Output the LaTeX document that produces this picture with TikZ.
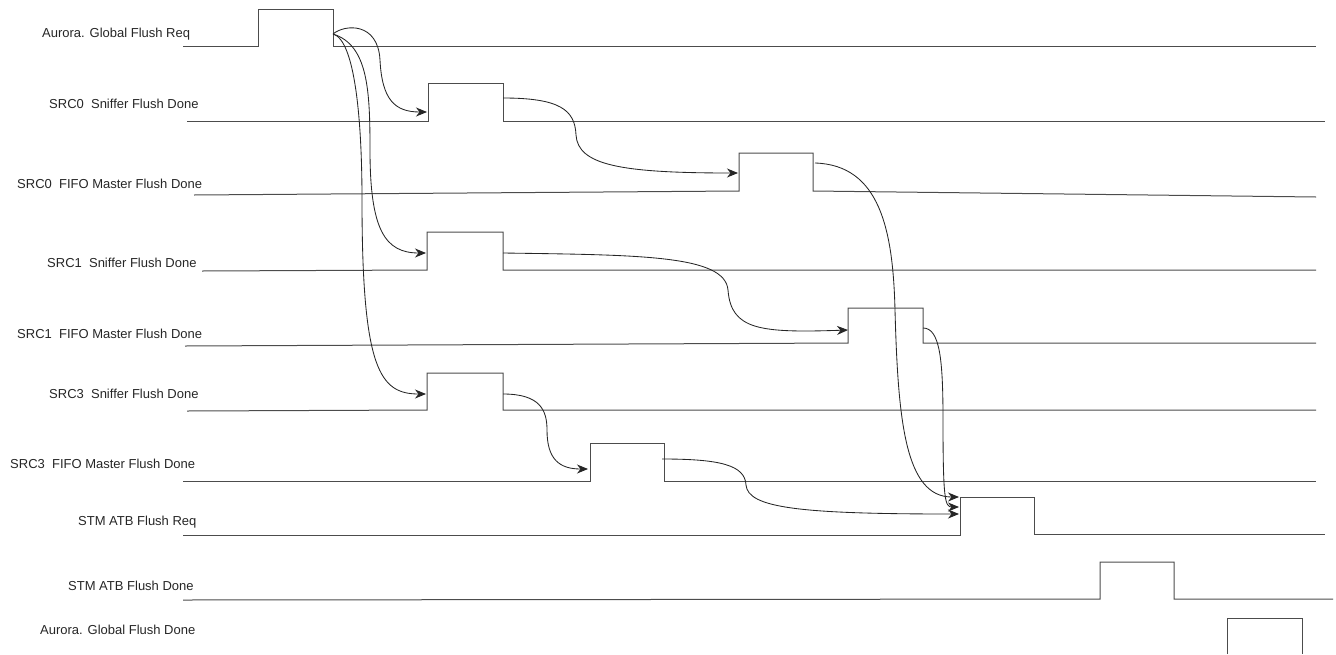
\documentclass[tikz,border=0pt]{standalone}
\usepackage{fontspec}
\setmainfont{Liberation Sans}
\usetikzlibrary{arrows.meta}

\begin{document}
\begin{tikzpicture}[
  x=1pt, y=-1pt,
  font=\fontsize{13}{15}\selectfont,
  >={Stealth[length=11pt,width=9pt,inset=3.5pt]},
  sig/.style={anchor=base west, inner sep=0pt, text=black!85},
  wave/.style={line width=1pt, draw=black!70},
  evt/.style={->, line width=0.85pt, draw=black!85},
]
\useasboundingbox (0,0) rectangle (1336,654);

% ---- signal names ----
\node[sig] (l-gfreq)  at (42,37)  {Aurora. Global Flush Req};
\node[sig] (l-s0snf)  at (49,108) {SRC0\ \ Sniffer Flush Done};
\node[sig] (l-s0fifo) at (17,188) {SRC0\ \ FIFO Master Flush Done};
\node[sig] (l-s1snf)  at (47,267) {SRC1\ \ Sniffer Flush Done};
\node[sig] (l-s1fifo) at (17,338) {SRC1\ \ FIFO Master Flush Done};
\node[sig] (l-s3snf)  at (49,398) {SRC3\ \ Sniffer Flush Done};
\node[sig] (l-s3fifo) at (10,468) {SRC3\ \ FIFO Master Flush Done};
\node[sig] (l-atbreq) at (78,525) {STM ATB Flush Req};
\node[sig] (l-atbdn)  at (68,590) {STM ATB Flush Done};
\node[sig] (l-gfdn)   at (40,634) {Aurora. Global Flush Done};

% ---- waveforms (low -> pulse -> low) ----
\draw[wave] (183,46) -- (258,46) -- (258,9) -- (333,9) -- (333,46) -- (1316,46);
\draw[wave] (187,121) -- (428,121) -- (428,83) -- (503,83) -- (503,121) -- (1325,121);
\draw[wave] (194,195) -- (739,191) -- (739,153) -- (813,153) -- (813,191) -- (1316,197);
\draw[wave] (202,271) -- (427,270) -- (427,232) -- (503,232) -- (503,270) -- (1316,270);
\draw[wave] (185,346) -- (848,343) -- (848,308) -- (923,308) -- (923,343) -- (1316,343);
\draw[wave] (187,411) -- (427,410) -- (427,373) -- (503,373) -- (503,410) -- (1316,410);
\draw[wave] (183,481) -- (590,481) -- (590,443) -- (664,443) -- (664,481) -- (1316,481);
\draw[wave] (183,535) -- (960,535) -- (960,497) -- (1034,497) -- (1034,534) -- (1325,534);
\draw[wave] (183,600) -- (1100,599) -- (1100,562) -- (1174,562) -- (1174,599) -- (1333,599);
\draw[wave] (1227,654) -- (1227,618) -- (1302,618) -- (1302,654);

% ---- edge points ----
\coordinate (gfreq-fall)  at (333,34);
\coordinate (s0snf-rise)  at (427,112);
\coordinate (s0snf-fall)  at (503,98);
\coordinate (s0fifo-rise) at (738,173);
\coordinate (s0fifo-fall) at (815,163);
\coordinate (s1snf-rise)  at (426,253);
\coordinate (s1snf-fall)  at (503,253);
\coordinate (s1fifo-rise) at (848,330);
\coordinate (s1fifo-fall) at (923,328);
\coordinate (s3snf-rise)  at (426,394);
\coordinate (s3snf-fall)  at (503,394);
\coordinate (s3fifo-rise) at (588,469);
\coordinate (s3fifo-fall) at (662,459);
\coordinate (atb-rise1)   at (959,497);
\coordinate (atb-rise2)   at (959,507);
\coordinate (atb-rise3)   at (959,514);

% ---- causality: global req fans out to the sniffers ----
\draw[evt] (gfreq-fall) .. controls (345,24) and (378,22) .. (380,60)
                        .. controls (382,100) and (395,112) .. (s0snf-rise);
\draw[evt] (gfreq-fall) .. controls (368,45) and (370,90) .. (370,150)
                        .. controls (370,230) and (385,253) .. (s1snf-rise);
\draw[evt] (gfreq-fall) .. controls (355,40) and (362,120) .. (362,200)
                        .. controls (362,370) and (380,394) .. (s3snf-rise);

% ---- sniffer done -> fifo master flush ----
\draw[evt] (s0snf-fall) .. controls (560,98) and (575,110) .. (576,135)
                        .. controls (578,165) and (620,173) .. (s0fifo-rise);
\draw[evt] (s1snf-fall) .. controls (640,255) and (725,255) .. (728,290)
                        .. controls (731,330) and (760,333) .. (s1fifo-rise);
\draw[evt] (s3snf-fall) .. controls (540,394) and (547,410) .. (547,430)
                        .. controls (547,460) and (560,469) .. (s3fifo-rise);

% ---- fifo masters done -> STM ATB flush req ----
\draw[evt] (s0fifo-fall) .. controls (880,165) and (893,230) .. (895,310)
                         .. controls (898,420) and (905,497) .. (atb-rise1);
\draw[evt] (s1fifo-fall) .. controls (940,328) and (943,360) .. (943,420)
                         .. controls (943,500) and (945,507) .. (atb-rise2);
\draw[evt] (s3fifo-fall) .. controls (720,459) and (745,465) .. (746,485)
                         .. controls (748,508) and (800,514) .. (atb-rise3);
\end{tikzpicture}
\end{document}
